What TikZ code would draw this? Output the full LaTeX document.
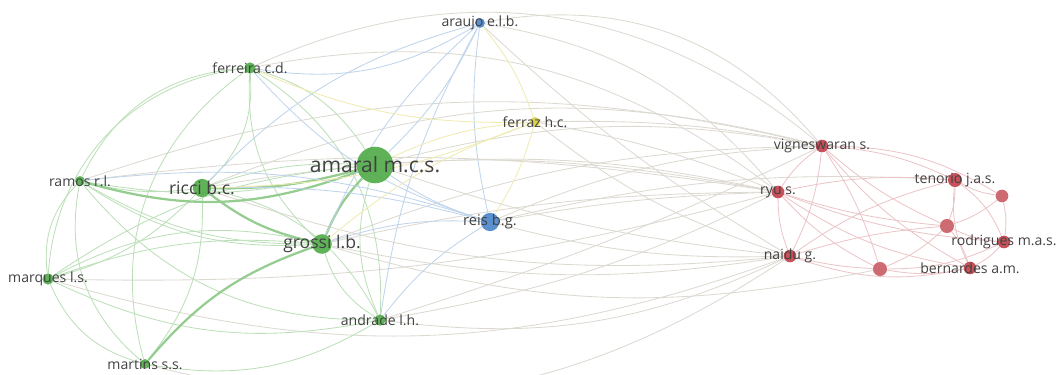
\documentclass[tikz,border=0pt]{standalone}
\usepackage{fontspec}
\setmainfont{Open Sans}
\usepackage{xcolor}
\usetikzlibrary{positioning,backgrounds}
\definecolor{grn}{RGB}{78,170,70}
\definecolor{blu}{RGB}{72,132,200}
\definecolor{ylw}{RGB}{215,205,60}
\definecolor{rd}{RGB}{192,62,72}
\definecolor{txt}{RGB}{65,65,65}
\definecolor{xgr}{RGB}{205,200,190}

\begin{document}
\begin{tikzpicture}[x=0.025cm,y=-0.025cm,
   au/.style={circle,inner sep=0pt,minimum size=#1,fill opacity=.9},
   lb/.style={text=txt,font=\fontsize{10}{10}\selectfont},
   gl/.style={draw=grn!38,line width=.6pt},
   gt/.style={draw=grn!60,line width=1.6pt},
   bl/.style={draw=blu!35,line width=.6pt},
   yl/.style={draw=ylw!40,line width=.6pt},
   rl/.style={draw=rd!30,line width=.6pt},
   xl/.style={draw=xgr!70,line width=.6pt}]
  \useasboundingbox (0,0) rectangle (1056,374);
  % green cluster
  \node[au=26pt,fill=grn,label={[lb,font=\fontsize{15}{15}\selectfont]center:amaral m.c.s.}] (amaral) at (375,165) {};
  \node[au=13pt,fill=grn,label={[lb,font=\fontsize{12.5}{12.5}\selectfont]center:ricci b.c.}] (ricci) at (202,188) {};
  \node[au=14pt,fill=grn,label={[lb,font=\fontsize{12.5}{12.5}\selectfont]center:grossi l.b.}] (grossi) at (322,244) {};
  \node[au=8pt,fill=grn,label={[lb]center:ferreira c.d.}] (ferreira) at (250,68) {};
  \node[au=7pt,fill=grn,label={[lb]center:ramos r.l.}] (ramos) at (80,181) {};
  \node[au=8pt,fill=grn,label={[lb]center:marques l.s.}] (marques) at (48,279) {};
  \node[au=8pt,fill=grn,label={[lb]center:andrade l.h.}] (andrade) at (380,320) {};
  \node[au=7pt,fill=grn,label={[lb]center:martins s.s.}] (martins) at (145,364) {};
  % blue and yellow
  \node[au=7pt,fill=blu,label={[lb]center:araujo e.l.b.}] (araujo) at (480,23) {};
  \node[au=13pt,fill=blu,label={[lb,font=\fontsize{10.5}{10.5}\selectfont]center:reis b.g.}] (reis) at (490,222) {};
  \node[au=7pt,fill=ylw,label={[lb]center:ferraz h.c.}] (ferraz) at (535,122) {};
  % red cluster
  \node[au=9pt,fill=rd,label={[lb]center:vigneswaran s.}] (vigneswaran) at (822,146) {};
  \node[au=9pt,fill=rd,label={[lb]center:ryu s.}] (ryu) at (778,192) {};
  \node[au=9pt,fill=rd,label={[lb]center:naidu g.}] (naidu) at (790,256) {};
  \node[au=10pt,fill=rd,label={[lb]center:tenorio j.a.s.}] (tenorio) at (955,180) {};
  \node[au=9pt,fill=rd,label={[lb]center:rodrigues m.a.s.}] (rodrigues) at (1004,242) {};
  \node[au=9pt,fill=rd,label={[lb]center:bernardes a.m.}] (bernardes) at (970,268) {};
  \node[au=10pt,fill=rd!85] (rd1) at (880,269) {};
  \node[au=10pt,fill=rd!85] (rd2) at (947,226) {};
  \node[au=9pt,fill=rd!85] (rd3) at (1002,196) {};

  \begin{scope}[on background layer]
    % links between clusters
    \foreach \a/\b/\t in {ferreira/vigneswaran/32,araujo/vigneswaran/30,araujo/ryu/20,
      amaral/vigneswaran/12,amaral/ryu/8,amaral/naidu/-6,ricci/ryu/10,ricci/naidu/-12,
      grossi/ryu/6,grossi/naidu/-10,reis/ryu/4,reis/naidu/-8,reis/vigneswaran/10,
      ferraz/ryu/6,ferraz/vigneswaran/6,ferraz/naidu/-10,andrade/naidu/-16,andrade/ryu/-8,
      ramos/vigneswaran/16,marques/naidu/-18,martins/naidu/-24,reis/tenorio/8,
      ramos/ryu/8,grossi/vigneswaran/10,ricci/vigneswaran/18,andrade/vigneswaran/-4,
      marques/ryu/-8,araujo/naidu/-6,ferreira/ryu/24,grossi/rd1/-14}
      \draw[xl] (\a) to[bend left=\t] (\b);
    % green links
    \foreach \a/\b/\t in {amaral/ferreira/-20,amaral/ramos/12,amaral/marques/-14,
      amaral/andrade/-20,ricci/ferreira/-25,ricci/ramos/10,ricci/marques/15,
      ricci/martins/20,ricci/andrade/25,grossi/ferreira/25,grossi/ramos/18,
      grossi/marques/-12,grossi/andrade/-20,ferreira/ramos/-30,ferreira/marques/-40,
      ferreira/andrade/30,ramos/marques/-25,ramos/martins/-30,ramos/andrade/-25,
      marques/martins/-25,marques/andrade/-18,martins/andrade/-20,ferreira/martins/-35,
      amaral/ricci/-10,ramos/grossi/-15,marques/grossi/20}
      \draw[gl] (\a) to[bend left=\t] (\b);
    \foreach \a/\b/\t in {amaral/ricci/8,amaral/grossi/-10,ricci/grossi/-12,
      grossi/martins/-15,amaral/ramos/18}
      \draw[gt] (\a) to[bend left=\t] (\b);
    % blue and yellow links
    \foreach \a/\b/\t in {araujo/reis/-10,araujo/amaral/10,araujo/ferreira/20,
      araujo/ricci/-15,araujo/grossi/-12,reis/amaral/8,reis/grossi/-10,reis/ricci/-8,
      reis/ferreira/15,reis/andrade/-10,reis/ramos/-12,araujo/andrade/-10}
      \draw[bl] (\a) to[bend left=\t] (\b);
    \foreach \a/\b/\t in {ferraz/amaral/-10,ferraz/ferreira/12,ferraz/reis/8,
      ferraz/araujo/-10,ferraz/ricci/10,ferraz/grossi/-10}
      \draw[yl] (\a) to[bend left=\t] (\b);
    % red links
    \foreach \a/\b/\t in {vigneswaran/ryu/-10,vigneswaran/naidu/10,ryu/naidu/-10,
      vigneswaran/tenorio/10,vigneswaran/rd3/15,ryu/rd1/-10,ryu/bernardes/-12,
      ryu/rodrigues/-8,naidu/rd1/-5,tenorio/rd2/10,tenorio/rd3/-10,tenorio/rodrigues/15,
      tenorio/bernardes/-15,rd2/rodrigues/-10,rd3/rodrigues/10,rd2/rd1/10,
      rd1/bernardes/-10,bernardes/rodrigues/-10,rd2/bernardes/10,ryu/tenorio/8,
      vigneswaran/bernardes/-10,naidu/bernardes/-15,rd1/rodrigues/-12,vigneswaran/rd2/-8,
      ryu/rd2/-6,naidu/rd2/6,vigneswaran/rd1/8,rd3/rd2/10,naidu/tenorio/10}
      \draw[rl] (\a) to[bend left=\t] (\b);
  \end{scope}
\end{tikzpicture}
\end{document}
